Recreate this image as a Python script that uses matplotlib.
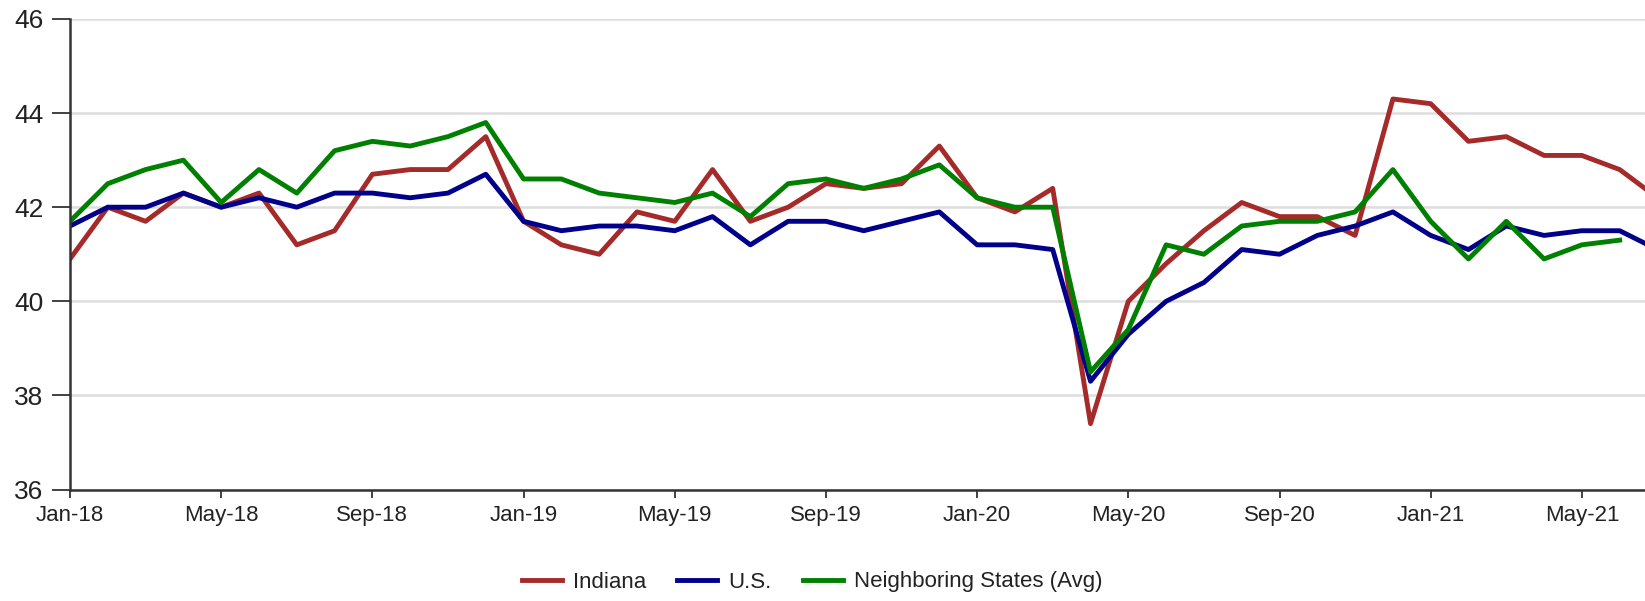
import numpy as np
import matplotlib
matplotlib.use("Agg")
import matplotlib.pyplot as plt

# monthly values, Jan-18 onward
indiana = [40.9, 42.0, 41.7, 42.3, 42.0, 42.3, 41.2, 41.5, 42.7, 42.8, 42.8, 43.5,
           41.7, 41.2, 41.0, 41.9, 41.7, 42.8, 41.7, 42.0, 42.5, 42.4, 42.5, 43.3,
           42.2, 41.9, 42.4, 37.4, 40.0, 40.8, 41.5, 42.1, 41.8, 41.8, 41.4, 44.3,
           44.2, 43.4, 43.5, 43.1, 43.1, 42.8, 42.2]
us = [41.6, 42.0, 42.0, 42.3, 42.0, 42.2, 42.0, 42.3, 42.3, 42.2, 42.3, 42.7,
      41.7, 41.5, 41.6, 41.6, 41.5, 41.8, 41.2, 41.7, 41.7, 41.5, 41.7, 41.9,
      41.2, 41.2, 41.1, 38.3, 39.3, 40.0, 40.4, 41.1, 41.0, 41.4, 41.6, 41.9,
      41.4, 41.1, 41.6, 41.4, 41.5, 41.5, 41.1]
neighbors = [41.7, 42.5, 42.8, 43.0, 42.1, 42.8, 42.3, 43.2, 43.4, 43.3, 43.5, 43.8,
             42.6, 42.6, 42.3, 42.2, 42.1, 42.3, 41.8, 42.5, 42.6, 42.4, 42.6, 42.9,
             42.2, 42.0, 42.0, 38.5, 39.4, 41.2, 41.0, 41.6, 41.7, 41.7, 41.9, 42.8,
             41.7, 40.9, 41.7, 40.9, 41.2, 41.3]

tick_labels = ["Jan-18", "May-18", "Sep-18", "Jan-19", "May-19", "Sep-19",
               "Jan-20", "May-20", "Sep-20", "Jan-21", "May-21"]
y_ticks = [36, 38, 40, 42, 44, 46]

plt.rcParams['font.family'] = ['Liberation Sans', 'DejaVu Sans']

fig = plt.figure(figsize=(16.45, 6.01), dpi=100)
ax = fig.add_axes([70 / 1645, 1 - 489.5 / 601, 1 - 70 / 1645, (489.5 - 19) / 601])

ax.plot(np.arange(len(indiana)), indiana, color='#a52a2a', lw=3.5, label='Indiana')
ax.plot(np.arange(len(us)), us, color='#00008b', lw=3.5, label='U.S.')
ax.plot(np.arange(len(neighbors)), neighbors, color='#008000', lw=3.5,
        label='Neighboring States (Avg)')

ax.set_xlim(0, 41.67)
ax.set_ylim(36, 46)
ax.set_yticks(y_ticks)
ax.set_xticks(np.arange(len(tick_labels)) * 4)
ax.set_xticklabels(tick_labels)

ax.yaxis.grid(True, color='#dddddd', lw=1.8)
ax.set_axisbelow(True)
for s in ['top', 'right']:
    ax.spines[s].set_visible(False)
for s in ['left', 'bottom']:
    ax.spines[s].set_color('#333333')
    ax.spines[s].set_linewidth(1.8)
    ax.spines[s].set_zorder(5)

ax.tick_params(axis='y', length=13, width=1.3, color='#333333', pad=6,
               labelsize=19, labelcolor='#222222')
ax.tick_params(axis='x', length=6, width=1.3, color='#333333', pad=5,
               labelsize=16, labelcolor='#222222')

fig.legend(loc='center', bbox_to_anchor=(812 / 1645, 1 - 582 / 601), ncol=3,
           frameon=False, fontsize=16, handlelength=1.8, handletextpad=0.5,
           columnspacing=1.4, labelcolor='#222222')

fig.savefig('out.png', dpi=100)
